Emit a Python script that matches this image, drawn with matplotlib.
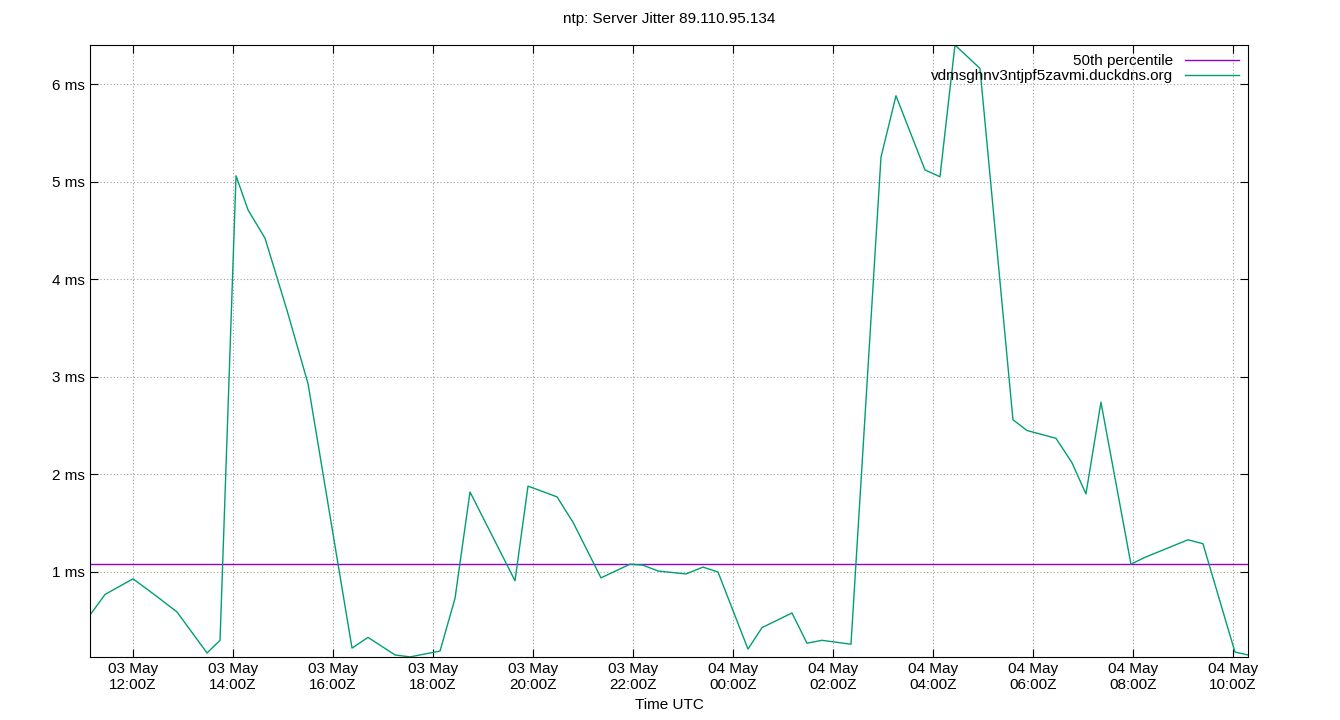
import matplotlib
matplotlib.use("Agg")
import matplotlib.pyplot as plt

plt.rcParams["font.family"] = "Liberation Sans"

# hours relative to 03 May 12:00Z
hours = [-0.86, -0.56, 0.0, 0.5, 0.88, 1.48, 1.74, 2.06, 2.3, 2.64, 3.08, 3.5, 4.38, 4.7,
         5.24, 5.54, 6.14, 6.44, 6.74, 7.64, 7.9, 8.48, 8.8, 9.36, 9.94, 10.2, 10.5, 11.06,
         11.4, 11.7, 12.3, 12.58, 13.18, 13.48, 13.78, 14.36, 14.96, 15.26, 15.84, 16.14,
         16.44, 16.94, 17.6, 17.88, 18.46, 18.78, 19.06, 19.36, 19.96, 20.24, 21.1, 21.4,
         22.04, 22.3]
jitter = [0.56, 0.77, 0.93, 0.74, 0.59, 0.17, 0.30, 5.06, 4.71, 4.42, 3.68, 2.93, 0.22, 0.33,
          0.15, 0.13, 0.19, 0.73, 1.82, 0.91, 1.88, 1.77, 1.51, 0.94, 1.08, 1.07, 1.01, 0.98,
          1.05, 1.0, 0.21, 0.43, 0.58, 0.27, 0.30, 0.26, 5.25, 5.88, 5.12, 5.05, 6.40, 6.16,
          2.56, 2.45, 2.37, 2.12, 1.80, 2.74, 1.08, 1.15, 1.33, 1.29, 0.18, 0.15]
median = 1.08
tick_hours = [0, 2, 4, 6, 8, 10, 12, 14, 16, 18, 20, 22]
tick_labels = ["03 May\n12:00Z", "03 May\n14:00Z", "03 May\n16:00Z", "03 May\n18:00Z",
               "03 May\n20:00Z", "03 May\n22:00Z", "04 May\n00:00Z", "04 May\n02:00Z",
               "04 May\n04:00Z", "04 May\n06:00Z", "04 May\n08:00Z", "04 May\n10:00Z"]
y_ticks = [1, 2, 3, 4, 5, 6]

fig = plt.figure(figsize=(13.4, 7.2), dpi=100)
ax = fig.add_axes([0.0672, 0.0875, 0.8641, 0.85])
ax.axhline(median, color="#9400d3", lw=1, label="50th percentile")
ax.plot(hours, jitter, color="#009e73", lw=1, label="vdmsghnv3ntjpf5zavmi.duckdns.org")
ax.set_xlim(-0.86, 22.3)
ax.set_ylim(0.129, 6.40)
ax.set_xticks(tick_hours)
ax.set_xticklabels(tick_labels)
ax.set_yticks(y_ticks)
ax.set_yticklabels([f"{v} ms" for v in y_ticks])
ax.tick_params(direction="in", top=True, right=True, labelsize=11, length=6)
ax.grid(True, color="#a0a0a0", ls=(0, (1, 2)), lw=0.8)
for s in ax.spines.values():
    s.set_linewidth(0.8)
ax.set_xlabel("Time UTC", fontsize=11)
ax.set_title("ntp: Server Jitter 89.110.95.134", fontsize=11, pad=16)
leg = ax.legend(loc="upper right", frameon=False, fontsize=11, markerfirst=False,
                handlelength=3.5, borderaxespad=0.2, labelspacing=0.05)
for t in leg.get_texts():
    t.set_ha("right")
fig.savefig("out.png", dpi=100)
